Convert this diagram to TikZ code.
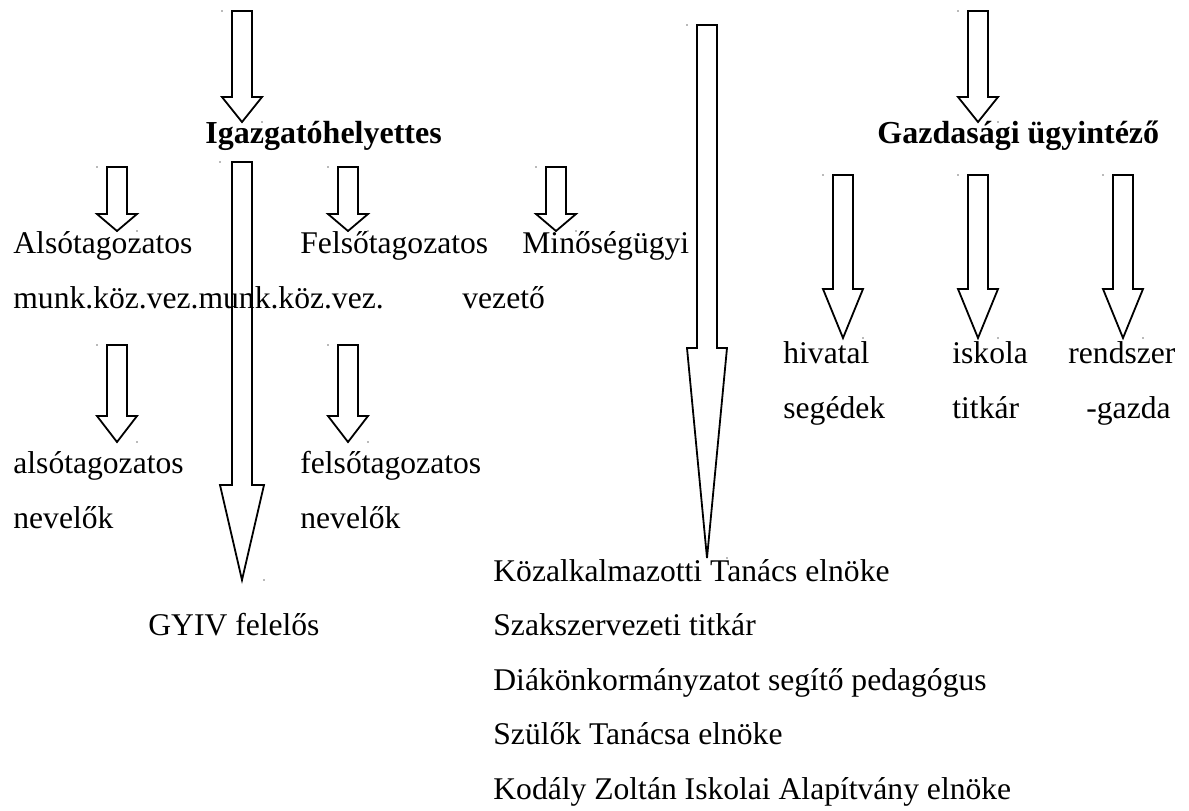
\documentclass[tikz,border=0pt]{standalone}
\usepackage{fontspec}
\setmainfont{Liberation Serif}
\tikzset{
  blockarrow/.style={draw, line width=0.9pt, fill=white, line join=miter},
  speck/.style={fill=black!55},
  lbl/.style={anchor=base west, inner sep=0pt, font=\fontsize{15.8}{18}\selectfont},
  head/.style={anchor=base west, inner sep=0pt, font=\fontsize{16}{19}\selectfont\bfseries}
}
\newcommand{\orgarrow}[6] {\draw [blockarrow] ({#2-10},#3) -- ({#2+10},#3) -- ({#2+10},#4) -- ({#2+#6},#4) -- (#2,#5) -- ({#2-#6},#4) -- ({#2-10},#4) -- cycle;
  \coordinate (#1) at (#2,#5);
  \fill [speck] ({#2-#6},#3) circle [radius=0.9] ({#2+#6},#5) circle [radius=0.9];}
\newcommand{\orgtext}[3] {\node at (#1) (#2) [lbl] {#3};}
\newcommand{\orghead}[3] {\node at (#1) (#2) [head] {#3};}

\begin{document}
\begin{tikzpicture}[x=0.5pt, y=-0.5pt]
\useasboundingbox (0,0) rectangle (1189,810);

\orgarrow{topleft}{242}{11}{97}{122}{20};
\orgarrow{topright}{978}{11}{97}{122}{20};
\orgarrow{gyiv}{242}{162}{485}{580}{22};
\orgarrow{middle}{707}{25}{348}{558}{20};

\orgarrow{also}{117}{167}{214}{231}{20};
\orgarrow{felso}{348}{167}{214}{231}{20};
\orgarrow{minos}{556}{167}{214}{231}{20};
\orgarrow{alsonev}{117}{345}{416}{442}{20};
\orgarrow{felsonev}{348}{345}{416}{442}{20};

\orgarrow{hiv}{843}{175}{289}{338}{20};
\orgarrow{isk}{978}{175}{289}{338}{20};
\orgarrow{rend}{1123}{175}{289}{338}{20};

\orghead {205,143} {igh} {Igazgatóhelyettes};
\orghead {877,143} {gazd} {Gazdasági ügyintéző};

\orgtext {13,253} {alsotag} {Alsótagozatos};
\orgtext {300,253} {felsotag} {Felsőtagozatos};
\orgtext {522,253} {minoseg} {Minőségügyi};
\orgtext {13,308} {munkkoz} {munk.köz.vez.munk.köz.vez.};
\orgtext {462,308} {vezeto} {vezető};

\orgtext {783,363} {hivatal} {hivatal};
\orgtext {783,418} {segedek} {segédek};
\orgtext {952,363} {iskola} {iskola};
\orgtext {952,418} {titkar} {titkár};
\orgtext {1068,363} {rendszer} {rendszer};
\orgtext {1086,418} {gazda} {-gazda};

\orgtext {13,473} {alsonevelo} {alsótagozatos};
\orgtext {13,528} {nevelok1} {nevelők};
\orgtext {300,473} {felsonevelo} {felsőtagozatos};
\orgtext {300,528} {nevelok2} {nevelők};

\orgtext {148,635} {gyivfel} {GYIV felelős};
\orgtext {493,581} {kt} {Közalkalmazotti Tanács elnöke};
\orgtext {493,635} {szakszerv} {Szakszervezeti titkár};
\orgtext {493,690} {dok} {Diákönkormányzatot segítő pedagógus};
\orgtext {493,744} {szt} {Szülők Tanácsa elnöke};
\orgtext {493,799} {alapitvany} {Kodály Zoltán Iskolai Alapítvány elnöke};

\end{tikzpicture}
\end{document}
